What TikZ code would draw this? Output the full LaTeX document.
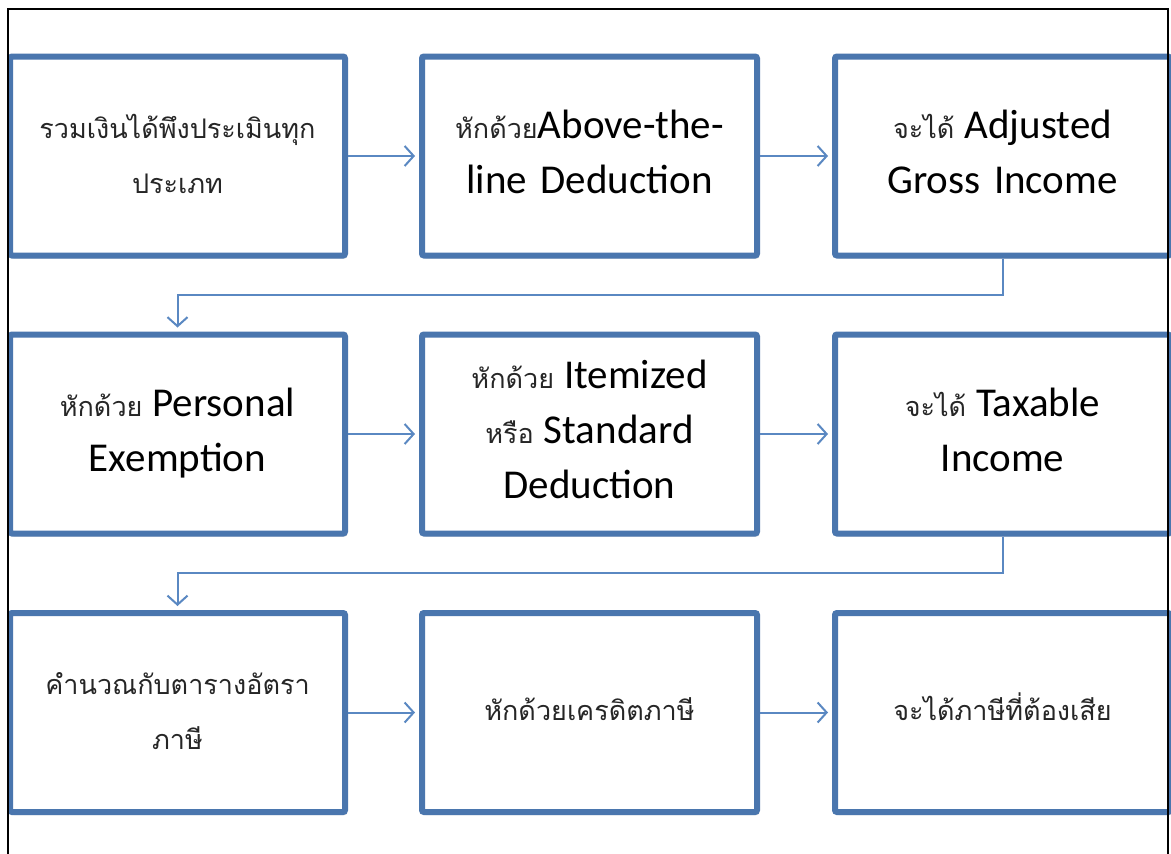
\documentclass[tikz,border=0pt]{standalone}
\usepackage{fontspec}
\setmainfont{Carlito}
\newfontfamily\thaifont[Script=Thai]{Loma}
\usetikzlibrary{arrows.meta,shadows,calc}
\definecolor{boxblue}{HTML}{4A76AE}
\definecolor{arrblue}{HTML}{5A88C2}
\newcommand{\thtxt}[1]{{\color{black!85}\thaifont\fontsize{27}{55}\selectfont #1}}
\newcommand{\gap}{\hspace{10pt}}
% line struts: multi-line and single-line
\newcommand{\lsm}{\rule[-12pt]{0pt}{43pt}}
\newcommand{\lso}{\rule[-13pt]{0pt}{42pt}}
\tikzset{
  flowbox/.style={draw=boxblue, line width=6pt, fill=white, rounded corners=2pt,
    minimum width=335pt, minimum height=199pt, inner sep=0pt,
    align=center, text width=330pt, font=\fontsize{41}{55}\selectfont,
    drop shadow={shadow xshift=2pt, shadow yshift=-3pt, opacity=0.25, fill=black!60}},
  conn/.style={draw=arrblue, line width=2pt,
    -{Straight Barb[length=9pt,width=20pt,line width=2pt]}, shorten >=4pt},
  frameline/.style={draw=black, line width=2pt}
}
\begin{document}
\begin{tikzpicture}[x=1pt,y=-1pt]
\useasboundingbox (0,0) rectangle (1171,854);
\fill[white] (0,0) rectangle (1171,854);

\node[flowbox] (b1) at (177.5,156) {\lsm\thtxt{รวมเงินได้พึงประเมินทุก}\\\lsm\thtxt{ประเภท}};
\node[flowbox] (b2) at (589.5,156) {\lsm\thtxt{หักด้วย}Above-the-\\\lsm line Deduction};
\node[flowbox] (b3) at (1002.5,156) {\lsm\thtxt{จะได้}\gap Adjusted\\\lsm Gross Income};

\node[flowbox] (b4) at (177.5,434) {\lsm\thtxt{หักด้วย}\gap Personal\\\lsm Exemption};
\node[flowbox] (b5) at (589.5,434) {\lsm\thtxt{หักด้วย}\gap Itemized\\\lsm\thtxt{หรือ}\gap Standard\\\lsm Deduction};
\node[flowbox] (b6) at (1002.5,434) {\lsm\thtxt{จะได้}\gap Taxable\\\lsm Income};

\node[flowbox] (b7) at (177.5,712.5) {\lsm\thtxt{คำนวณกับตารางอัตรา}\\\lsm\thtxt{ภาษี}};
\node[flowbox] (b8) at (589.5,712.5) {\lso\thtxt{หักด้วยเครดิตภาษี}};
\node[flowbox] (b9) at (1002.5,712.5) {\lso\thtxt{จะได้ภาษีที่ต้องเสีย}};

\draw[conn] (b1.east) -- (b2.west);
\draw[conn] (b2.east) -- (b3.west);
\draw[conn] (b4.east) -- (b5.west);
\draw[conn] (b5.east) -- (b6.west);
\draw[conn] (b7.east) -- (b8.west);
\draw[conn] (b8.east) -- (b9.west);

\draw[conn] (b3.south) -- ++(0,36) -| (b4.north);
\draw[conn] (b6.south) -- ++(0,36) -| (b7.north);

\draw[frameline] (8,854) -- (8,9) -- (1168,9) -- (1168,854);
\end{tikzpicture}
\end{document}
